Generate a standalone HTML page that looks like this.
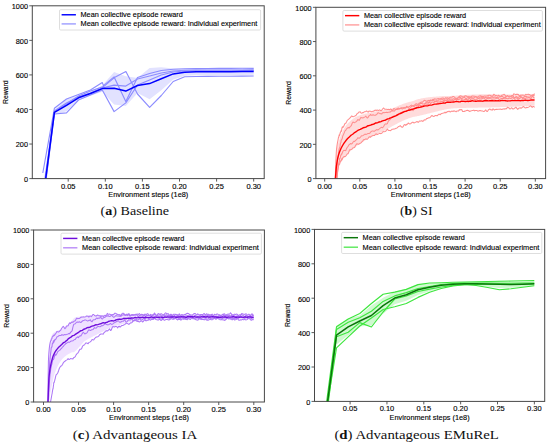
<!DOCTYPE html>
<html><head><meta charset="utf-8"><style>
html,body{margin:0;padding:0;background:#fff;}
svg{display:block;font-family:"Liberation Sans", sans-serif;}
text{stroke:#000;stroke-width:0.12px;}
</style></head><body>
<svg width="550" height="448" viewBox="0 0 550 448">
<rect width="550" height="448" fill="#fff"/>
<defs>
<clipPath id="c0"><rect x="32.3" y="5.8" width="231.9" height="172.8"/></clipPath>
<clipPath id="c1"><rect x="315.9" y="7.3" width="229.7" height="171.3"/></clipPath>
<clipPath id="c2"><rect x="33.6" y="230" width="230.8" height="172"/></clipPath>
<clipPath id="c3"><rect x="314.5" y="229.4" width="230.2" height="172"/></clipPath>
</defs>
<g clip-path="url(#c0)">
<polygon points="42.8,186.6 54.4,110.03 66.5,99.44 78.5,95.48 90.4,91.28 102.3,85.47 114.1,71.91 125.8,76.32 137.5,78.01 149.6,67.97 161.3,67.32 173.2,68.42 184.7,68.69 196.2,68.33 207.7,68.35 219.2,68.37 230.7,68.42 242.2,68.23 253.7,68.16 253.7,74.84 242.2,74.97 230.7,75.18 219.2,75.23 207.7,75.25 196.2,75.27 184.7,75.71 173.2,79.38 161.3,90.28 149.6,99.23 137.5,92.99 125.8,105.88 114.1,104.49 102.3,91.73 90.4,95.72 78.5,100.12 66.5,111.16 54.4,114.77 42.8,214.8" fill="#e2e2ff" stroke="none"/>
<polyline points="42.8,173 54.4,108.3 66.5,99 78.5,94.5 90.4,90 102.3,82.6 103.5,85.6 114.1,76.9 125.8,101.5 137.5,77.5 149.6,73.5 161.3,70.5 173.2,69.3 184.7,68.8 196.2,68.6 207.7,68.5 219.2,68.4 230.7,68.4 242.2,68.3 253.7,68.3" fill="none" stroke="#8c8cff" stroke-width="1.15" stroke-linejoin="round"/>
<polyline points="42.8,200 54.4,112 66.5,104 78.5,96 90.4,91 103.6,86.6 114.4,77.6 125.9,71.5 137.5,94 149.6,107.3 161.3,95.5 173.2,81.5 184.7,76.8 196.2,76.5 207.7,76.4 219.2,76.3 230.7,76.2 242.2,76.1 253.7,76" fill="none" stroke="#8c8cff" stroke-width="1.15" stroke-linejoin="round"/>
<polyline points="42.8,205 54.4,114 66.5,112.9 78.5,100 90.4,95 102.3,90 114.1,111.6 125.8,102.9 137.5,85 149.6,80 161.3,75 173.2,72 184.7,71 196.2,70.8 207.7,70.8 219.2,70.8 230.7,70.8 242.2,70.7 253.7,70.6" fill="none" stroke="#8c8cff" stroke-width="1.15" stroke-linejoin="round"/>
<polyline points="42.8,195 54.4,111 66.5,103 78.5,97 90.4,93 102.3,88 114.1,85.1 125.8,86.1 137.5,79 149.6,76 161.3,73 173.2,71 184.7,70.3 196.2,70 207.7,70 219.2,70 230.7,70 242.2,70 253.7,69.9" fill="none" stroke="#8c8cff" stroke-width="1.15" stroke-linejoin="round"/>
<polyline points="42.8,200.7 54.4,112.4 66.5,105.3 78.5,97.8 90.4,93.5 102.3,88.6 114.1,88.2 125.8,91.1 137.5,85.5 149.6,83.6 161.3,78.8 173.2,73.9 184.7,72.2 196.2,71.8 207.7,71.8 219.2,71.8 230.7,71.8 242.2,71.6 253.7,71.5" fill="none" stroke="#0000ff" stroke-width="1.55" stroke-linejoin="round"/>
</g>
<rect x="32.3" y="5.8" width="231.9" height="172.8" fill="none" stroke="#484848" stroke-width="1"/>
<line x1="29.3" y1="178.6" x2="32.3" y2="178.6" stroke="#484848" stroke-width="0.9"/>
<text x="28" y="182" text-anchor="end" font-size="7.3" fill="#000">0</text>
<line x1="29.3" y1="144.04" x2="32.3" y2="144.04" stroke="#484848" stroke-width="0.9"/>
<text x="28" y="147.44" text-anchor="end" font-size="7.3" fill="#000">200</text>
<line x1="29.3" y1="109.48" x2="32.3" y2="109.48" stroke="#484848" stroke-width="0.9"/>
<text x="28" y="112.88" text-anchor="end" font-size="7.3" fill="#000">400</text>
<line x1="29.3" y1="74.92" x2="32.3" y2="74.92" stroke="#484848" stroke-width="0.9"/>
<text x="28" y="78.32" text-anchor="end" font-size="7.3" fill="#000">600</text>
<line x1="29.3" y1="40.36" x2="32.3" y2="40.36" stroke="#484848" stroke-width="0.9"/>
<text x="28" y="43.76" text-anchor="end" font-size="7.3" fill="#000">800</text>
<line x1="29.3" y1="5.8" x2="32.3" y2="5.8" stroke="#484848" stroke-width="0.9"/>
<text x="28" y="9.2" text-anchor="end" font-size="7.3" fill="#000">1000</text>
<line x1="68.2" y1="178.6" x2="68.2" y2="181.6" stroke="#484848" stroke-width="0.9"/>
<text x="68.2" y="188.6" text-anchor="middle" font-size="7" fill="#000" textLength="14.6" lengthAdjust="spacingAndGlyphs">0.05</text>
<line x1="105.3" y1="178.6" x2="105.3" y2="181.6" stroke="#484848" stroke-width="0.9"/>
<text x="105.3" y="188.6" text-anchor="middle" font-size="7" fill="#000" textLength="14.6" lengthAdjust="spacingAndGlyphs">0.10</text>
<line x1="142.4" y1="178.6" x2="142.4" y2="181.6" stroke="#484848" stroke-width="0.9"/>
<text x="142.4" y="188.6" text-anchor="middle" font-size="7" fill="#000" textLength="14.6" lengthAdjust="spacingAndGlyphs">0.15</text>
<line x1="179.5" y1="178.6" x2="179.5" y2="181.6" stroke="#484848" stroke-width="0.9"/>
<text x="179.5" y="188.6" text-anchor="middle" font-size="7" fill="#000" textLength="14.6" lengthAdjust="spacingAndGlyphs">0.20</text>
<line x1="216.6" y1="178.6" x2="216.6" y2="181.6" stroke="#484848" stroke-width="0.9"/>
<text x="216.6" y="188.6" text-anchor="middle" font-size="7" fill="#000" textLength="14.6" lengthAdjust="spacingAndGlyphs">0.25</text>
<line x1="253.7" y1="178.6" x2="253.7" y2="181.6" stroke="#484848" stroke-width="0.9"/>
<text x="253.7" y="188.6" text-anchor="middle" font-size="7" fill="#000" textLength="14.6" lengthAdjust="spacingAndGlyphs">0.30</text>
<text x="148.25" y="197.3" text-anchor="middle" font-size="7.2" fill="#000" textLength="80" lengthAdjust="spacingAndGlyphs">Environment steps (1e8)</text>
<text x="0" y="0" transform="translate(7.8,92.2) rotate(-90)" text-anchor="middle" font-size="6.9" fill="#000" textLength="23.4" lengthAdjust="spacingAndGlyphs">Reward</text>
<rect x="59.5" y="9.7" width="201.1" height="20.3" rx="1.2" fill="#ffffff" fill-opacity="0.85" stroke="#d6d6d6" stroke-width="0.8"/>
<line x1="61.6" y1="14.77" x2="75.9" y2="14.77" stroke="#0000ff" stroke-width="1.45"/>
<line x1="61.6" y1="23.91" x2="75.9" y2="23.91" stroke="#8c8cff" stroke-width="1.2"/>
<text x="80.5" y="17.27" font-size="7.3" fill="#000" textLength="102.3" lengthAdjust="spacingAndGlyphs">Mean collective episode reward</text>
<text x="80.5" y="26.41" font-size="7.3" fill="#000" textLength="176.8" lengthAdjust="spacingAndGlyphs">Mean collective episode reward: Individual experiment</text>
<text x="100.6" y="215" font-family='"Liberation Serif", serif' font-size="13.5" fill="#111" style="stroke:none" textLength="68.4" lengthAdjust="spacingAndGlyphs">(<tspan font-weight="bold">a</tspan>) Baseline</text>
<g clip-path="url(#c1)">
<polygon points="334.6,185 334.88,183.17 335.15,178.73 335.4,172.85 335.43,172.18 335.7,165.33 335.98,158.42 336.2,154.1 336.26,153.25 336.53,149.78 336.81,148.06 337,147.06 337.08,146.68 337.36,145.57 337.63,144.67 337.8,144.2 337.91,143.9 338.19,143.16 338.46,142.32 338.6,141.89 338.74,141.48 339.01,140.67 339.29,139.88 339.4,139.57 339.57,139.11 339.84,138.33 340.12,137.54 340.2,137.31 340.39,136.76 340.67,136.01 340.94,135.29 341,135.15 341.22,134.59 341.5,133.92 341.77,133.26 341.8,133.2 342.05,132.62 342.32,132 342.6,131.39 342.6,131.39 343.4,129.76 344.2,128.29 345,126.99 345.8,125.84 346.6,124.81 347.4,123.87 348.2,123.01 349,122.2 349.8,121.44 350.6,120.73 351.4,120.06 352.2,119.43 353,118.86 353.8,118.31 354.6,117.8 355.4,117.32 356.2,116.87 357,116.46 357.8,116.08 358.6,115.73 359.4,115.42 360.2,115.13 361,114.87 361.8,114.63 362.6,114.4 363.4,114.18 364.2,113.97 365,113.77 365.8,113.58 366.6,113.4 367.4,113.23 368.2,113.07 369,112.91 369.8,112.76 370.6,112.6 371.4,112.44 372.2,112.28 373,112.11 373.8,111.95 374.6,111.77 375.4,111.59 376.2,111.42 377,111.25 377.8,111.09 378.6,110.94 379.4,110.79 380.2,110.65 381,110.53 381.8,110.42 382.6,110.31 383.4,110.21 384.2,110.1 385,109.99 385.8,109.87 386.6,109.74 387.4,109.61 388.2,109.47 389,109.31 389.8,109.13 390.6,108.92 391.4,108.68 392.2,108.4 393,108.1 393.8,107.77 394.6,107.43 395.4,107.09 396.2,106.74 397,106.38 397.8,106.03 398.6,105.68 399.4,105.34 400.2,105.01 401,104.69 401.8,104.38 402.6,104.09 403.4,103.82 404.2,103.56 405,103.31 405.8,103.07 406.6,102.83 407.4,102.59 408.2,102.35 409,102.11 409.8,101.87 410.6,101.64 411.4,101.4 412.2,101.16 413,100.92 413.8,100.66 414.6,100.39 415.4,100.11 416.2,99.83 417,99.56 417.8,99.31 418.6,99.08 419.4,98.89 420.2,98.7 421,98.52 421.8,98.36 422.6,98.2 423.4,98.06 424.2,97.92 425,97.79 425.8,97.67 426.6,97.56 427.4,97.45 428.2,97.35 429,97.26 429.8,97.17 430.6,97.09 431.4,97.01 432.2,96.94 433,96.87 433.8,96.8 434.6,96.74 435.4,96.67 436.2,96.6 437,96.54 437.8,96.47 438.6,96.41 439.4,96.34 440.2,96.27 441,96.2 441.8,96.15 442.6,96.09 443.4,96.05 444.2,96.01 445,95.99 445.8,95.96 446.6,95.94 447.4,95.93 448.2,95.92 449,95.91 449.8,95.9 450.6,95.89 451.4,95.87 452.2,95.84 453,95.81 453.8,95.77 454.6,95.72 455.4,95.66 456.2,95.61 457,95.55 457.8,95.49 458.6,95.44 459.4,95.38 460.2,95.33 461,95.28 461.8,95.23 462.6,95.17 463.4,95.12 464.2,95.07 465,95.02 465.8,94.97 466.6,94.92 467.4,94.87 468.2,94.83 469,94.78 469.8,94.73 470.6,94.69 471.4,94.65 472.2,94.61 473,94.57 473.8,94.54 474.6,94.51 475.4,94.48 476.2,94.45 477,94.42 477.8,94.4 478.6,94.39 479.4,94.37 480.2,94.36 481,94.34 481.8,94.33 482.6,94.33 483.4,94.32 484.2,94.31 485,94.31 485.8,94.31 486.6,94.31 487.4,94.31 488.2,94.31 489,94.31 489.8,94.31 490.6,94.32 491.4,94.32 492.2,94.33 493,94.33 493.8,94.34 494.6,94.35 495.4,94.35 496.2,94.36 497,94.37 497.8,94.38 498.6,94.39 499.4,94.39 500.2,94.4 501,94.41 501.8,94.42 502.6,94.43 503.4,94.43 504.2,94.44 505,94.45 505.8,94.45 506.6,94.46 507.4,94.47 508.2,94.47 509,94.48 509.8,94.48 510.6,94.49 511.4,94.5 512.2,94.51 513,94.51 513.8,94.52 514.6,94.53 515.4,94.53 516.2,94.54 517,94.55 517.8,94.56 518.6,94.57 519.4,94.57 520.2,94.58 521,94.59 521.8,94.6 522.6,94.61 523.4,94.62 524.2,94.63 525,94.64 525.8,94.65 526.6,94.66 527.4,94.67 528.2,94.68 529,94.69 529.8,94.7 530.6,94.71 531.4,94.72 532.2,94.73 533,94.75 533.8,94.76 534.6,94.77 534.6,105.64 533.8,105.68 533,105.73 532.2,105.77 531.4,105.81 530.6,105.85 529.8,105.9 529,105.94 528.2,105.98 527.4,106.02 526.6,106.06 525.8,106.1 525,106.14 524.2,106.18 523.4,106.21 522.6,106.25 521.8,106.29 521,106.33 520.2,106.36 519.4,106.4 518.6,106.43 517.8,106.47 517,106.5 516.2,106.54 515.4,106.57 514.6,106.6 513.8,106.64 513,106.67 512.2,106.7 511.4,106.73 510.6,106.76 509.8,106.79 509,106.82 508.2,106.85 507.4,106.88 506.6,106.91 505.8,106.94 505,106.96 504.2,106.99 503.4,107.02 502.6,107.04 501.8,107.07 501,107.09 500.2,107.12 499.4,107.14 498.6,107.17 497.8,107.19 497,107.21 496.2,107.24 495.4,107.26 494.6,107.28 493.8,107.3 493,107.32 492.2,107.34 491.4,107.36 490.6,107.38 489.8,107.4 489,107.42 488.2,107.44 487.4,107.45 486.6,107.47 485.8,107.49 485,107.5 484.2,107.52 483.4,107.53 482.6,107.55 481.8,107.56 481,107.58 480.2,107.59 479.4,107.6 478.6,107.61 477.8,107.63 477,107.64 476.2,107.65 475.4,107.67 474.6,107.68 473.8,107.7 473,107.72 472.2,107.73 471.4,107.75 470.6,107.77 469.8,107.79 469,107.8 468.2,107.82 467.4,107.84 466.6,107.86 465.8,107.88 465,107.91 464.2,107.93 463.4,107.95 462.6,107.97 461.8,107.99 461,108.02 460.2,108.04 459.4,108.07 458.6,108.09 457.8,108.12 457,108.15 456.2,108.19 455.4,108.22 454.6,108.26 453.8,108.31 453,108.38 452.2,108.46 451.4,108.54 450.6,108.64 449.8,108.75 449,108.87 448.2,108.99 447.4,109.12 446.6,109.26 445.8,109.41 445,109.57 444.2,109.74 443.4,109.91 442.6,110.08 441.8,110.26 441,110.44 440.2,110.62 439.4,110.8 438.6,110.99 437.8,111.18 437,111.38 436.2,111.59 435.4,111.79 434.6,111.99 433.8,112.2 433,112.4 432.2,112.6 431.4,112.8 430.6,113 429.8,113.2 429,113.4 428.2,113.6 427.4,113.8 426.6,114 425.8,114.2 425,114.4 424.2,114.6 423.4,114.79 422.6,114.98 421.8,115.18 421,115.36 420.2,115.55 419.4,115.74 418.6,115.92 417.8,116.08 417,116.23 416.2,116.38 415.4,116.52 414.6,116.68 413.8,116.86 413,117.06 412.2,117.28 411.4,117.52 410.6,117.78 409.8,118.04 409,118.32 408.2,118.61 407.4,118.9 406.6,119.21 405.8,119.52 405,119.84 404.2,120.17 403.4,120.51 402.6,120.87 401.8,121.24 401,121.63 400.2,122.04 399.4,122.45 398.6,122.87 397.8,123.29 397,123.72 396.2,124.15 395.4,124.58 394.6,125.01 393.8,125.44 393,125.87 392.2,126.31 391.4,126.74 390.6,127.18 389.8,127.63 389,128.08 388.2,128.53 387.4,128.98 386.6,129.42 385.8,129.86 385,130.3 384.2,130.74 383.4,131.17 382.6,131.6 381.8,132.03 381,132.44 380.2,132.85 379.4,133.24 378.6,133.62 377.8,134 377,134.37 376.2,134.75 375.4,135.13 374.6,135.51 373.8,135.88 373,136.25 372.2,136.62 371.4,137 370.6,137.38 369.8,137.77 369,138.17 368.2,138.59 367.4,139.02 366.6,139.47 365.8,139.93 365,140.41 364.2,140.9 363.4,141.4 362.6,141.92 361.8,142.44 361,142.98 360.2,143.53 359.4,144.09 358.6,144.65 357.8,145.22 357,145.8 356.2,146.38 355.4,146.97 354.6,147.58 353.8,148.2 353,148.84 352.2,149.51 351.4,150.2 350.6,150.9 349.8,151.63 349,152.39 348.2,153.17 347.4,153.99 346.6,154.84 345.8,155.73 345,156.65 344.2,157.59 343.4,158.56 342.6,159.57 342.6,159.57 342.32,159.93 342.05,160.3 341.8,160.65 341.77,160.69 341.5,161.08 341.22,161.49 341,161.84 340.94,161.93 340.67,162.39 340.39,162.88 340.2,163.25 340.12,163.42 339.84,164.02 339.57,164.72 339.4,165.18 339.29,165.51 339.01,166.39 338.74,167.36 338.6,167.88 338.46,168.41 338.19,169.6 337.91,171.03 337.8,171.68 337.63,172.73 337.36,174.67 337.08,176.8 337,177.46 336.81,179.07 336.53,181.41 336.26,182.46 336.2,182.62 335.98,183.53 335.7,184.39 335.43,184.47 335.4,184.35 335.15,183.09 334.88,183.17 334.6,185" fill="#ffdcdc" stroke="none"/>
<polyline points="335.15,180.64 335.4,173.49 335.43,172.71 335.7,165.16 335.98,158.43 336.2,153.94 336.26,152.97 336.53,149.22 336.81,147.02 337,145.66 337.08,145.11 337.36,143.4 337.63,141.88 337.8,141.05 337.91,140.53 338.19,139.02 338.46,137.6 338.6,136.99 338.74,137.33 339.01,135.76 339.29,134.71 339.4,135.21 339.57,135.62 339.84,134.29 340.12,132.72 340.2,132.68 340.39,132.83 340.67,131.85 340.94,130.83 341,131.06 341.22,131.41 341.5,131.08 341.77,129.1 341.8,128.77 342.05,128 342.32,126.85 342.6,126.84 342.6,127.44 343.4,127.01 344.2,125.23 345,123.48 345.8,123.2 346.6,121.8 347.4,120.12 348.2,119.58 349,118.88 349.8,118.1 350.6,117.39 351.4,116.01 352.2,116.31 353,116.79 353.8,116.48 354.6,116.12 355.4,115.8 356.2,115.12 357,113.76 357.8,113.52 358.6,112.33 359.4,112.02 360.2,111.83 361,113.03 361.8,113.23 362.6,112.62 363.4,112.79 364.2,111.8 365,111.65 365.8,111.44 366.6,110.92 367.4,111.67 368.2,112.1 369,111.02 369.8,111.25 370.6,111.29 371.4,111.83 372.2,111.44 373,111.24 373.8,111.13 374.6,110.55 375.4,110.03 376.2,110.69 377,109.93 377.8,110.31 378.6,110.48 379.4,109.88 380.2,110.28 381,110.73 381.8,110.06 382.6,108.97 383.4,108.01 384.2,108.72 385,109.23 385.8,109.21 386.6,109.17 387.4,109.59 388.2,109.34 389,109.51 389.8,109.68 390.6,109.02 391.4,109.42 392.2,110.54 393,109.82 393.8,108.54 394.6,108.83 395.4,109.42 396.2,109.59 397,108.89 397.8,108.18 398.6,108.08 399.4,108.6 400.2,108.39 401,107.82 401.8,107.67 402.6,107.68 403.4,107.86 404.2,107.38 405,107.69 405.8,107.89 406.6,107.38 407.4,106.85 408.2,107.28 409,106.62 409.8,106.47 410.6,105.68 411.4,105.1 412.2,105.78 413,105.88 413.8,105.48 414.6,105.09 415.4,104.25 416.2,103.73 417,104 417.8,104.66 418.6,103.89 419.4,102.9 420.2,102.79 421,102.18 421.8,101.99 422.6,102.21 423.4,101.26 424.2,100.3 425,100.46 425.8,100.93 426.6,101.13 427.4,101.19 428.2,100.4 429,100.6 429.8,100.43 430.6,100.08 431.4,100.3 432.2,99.91 433,99.34 433.8,99.62 434.6,98.85 435.4,99.01 436.2,99.19 437,99.1 437.8,98.58 438.6,98.64 439.4,98.82 440.2,99.01 441,98.32 441.8,98.32 442.6,98.04 443.4,98.06 444.2,99.45 445,98.35 445.8,97.55 446.6,98.34 447.4,97.72 448.2,98.08 449,98.27 449.8,97.52 450.6,97.28 451.4,97.27 452.2,97.15 453,96.43 453.8,96.5 454.6,97.32 455.4,98.02 456.2,98.15 457,98.43 457.8,97.79 458.6,96.97 459.4,96.56 460.2,95.74 461,95.91 461.8,96.25 462.6,96.96 463.4,97.12 464.2,96.48 465,96.03 465.8,95.71 466.6,96.33 467.4,96.77 468.2,96.68 469,96.51 469.8,97.59 470.6,97.39 471.4,96.43 472.2,95.96 473,96.03 473.8,96.25 474.6,96.3 475.4,96.55 476.2,96.86 477,97.16 477.8,96.88 478.6,96.22 479.4,96.08 480.2,95.68 481,95.85 481.8,96.7 482.6,96.27 483.4,96.71 484.2,95.96 485,95.98 485.8,96.32 486.6,95.92 487.4,95.78 488.2,95.43 489,95.21 489.8,95.22 490.6,95.39 491.4,96.18 492.2,95.93 493,95.8 493.8,94.22 494.6,94.95 495.4,95.55 496.2,95.41 497,95.9 497.8,95.71 498.6,95.24 499.4,95.86 500.2,96.78 501,95.81 501.8,95.22 502.6,94.91 503.4,94.81 504.2,94.32 505,95.11 505.8,96.47 506.6,96.11 507.4,95.69 508.2,95.99 509,96.24 509.8,95.93 510.6,96.3 511.4,95.84 512.2,95.44 513,95.36 513.8,93.74 514.6,94.11 515.4,94.65 516.2,94.29 517,94.38 517.8,94.24 518.6,94.73 519.4,96.16 520.2,95.5 521,94.99 521.8,95.32 522.6,94.91 523.4,95.13 524.2,95.26 525,95.29 525.8,94.26 526.6,94.76 527.4,94.57 528.2,94.15 529,94.76 529.8,94.56 530.6,95.35 531.4,95.22 532.2,95 533,94.84 533.8,94.67 534.6,93.66" fill="none" stroke="#ff8e8e" stroke-width="1.05" stroke-linejoin="round"/>
<polyline points="335.7,182.02 335.98,177.95 336.2,174.74 336.26,173.95 336.53,170.15 336.81,166.66 337,164.46 337.08,163.59 337.36,161.05 337.63,159.09 337.8,158 337.91,157.29 338.19,155.56 338.46,153.9 338.6,152.36 338.74,151.43 339.01,149.72 339.29,148.33 339.4,148.49 339.57,147.68 339.84,147.43 340.12,145.98 340.2,144.47 340.39,143.37 340.67,142.83 340.94,142.52 341,141.34 341.22,140.05 341.5,139.83 341.77,139.24 341.8,139.08 342.05,139.12 342.32,138.03 342.6,136.92 342.6,136.4 343.4,134.7 344.2,132.87 345,130.82 345.8,130.25 346.6,128.85 347.4,128.21 348.2,127.52 349,128.04 349.8,127.1 350.6,126.36 351.4,125.36 352.2,123.28 353,122.03 353.8,122.47 354.6,122.71 355.4,122.03 356.2,121.72 357,120.97 357.8,119.52 358.6,119.91 359.4,120.29 360.2,118.61 361,117.38 361.8,117.76 362.6,117.86 363.4,117.81 364.2,117.21 365,116.86 365.8,116.14 366.6,117.3 367.4,117.99 368.2,117.25 369,115.79 369.8,115.47 370.6,114.39 371.4,115.29 372.2,115.31 373,114.79 373.8,115.11 374.6,115.19 375.4,115.24 376.2,114.78 377,114.11 377.8,112.9 378.6,112.87 379.4,113.34 380.2,113.64 381,113.71 381.8,113.87 382.6,112.8 383.4,112.63 384.2,112.76 385,112.54 385.8,112.49 386.6,112.24 387.4,112.64 388.2,112.16 389,112.25 389.8,111.99 390.6,111.92 391.4,110.81 392.2,110.99 393,110.77 393.8,110.96 394.6,111.02 395.4,109.74 396.2,109.11 397,109.32 397.8,109.5 398.6,108.76 399.4,109.03 400.2,108.5 401,108.29 401.8,108.69 402.6,108.88 403.4,108.31 404.2,108.09 405,108.12 405.8,107.44 406.6,106.29 407.4,106.95 408.2,107.6 409,108.18 409.8,108.4 410.6,107.49 411.4,106.51 412.2,105.79 413,106.07 413.8,106.49 414.6,106.26 415.4,105.16 416.2,105.26 417,105.74 417.8,105.91 418.6,104.88 419.4,103.92 420.2,103.55 421,103.44 421.8,103.39 422.6,103.96 423.4,104.08 424.2,103.81 425,103.5 425.8,102.64 426.6,102.45 427.4,102.07 428.2,102.18 429,102.48 429.8,101.51 430.6,100.42 431.4,100.72 432.2,100.47 433,99.95 433.8,100.38 434.6,101.46 435.4,101.65 436.2,100.76 437,101.09 437.8,100.91 438.6,99.77 439.4,99.84 440.2,99.97 441,99.67 441.8,98.87 442.6,99.38 443.4,100.31 444.2,100.68 445,100.54 445.8,99.78 446.6,100.28 447.4,99.58 448.2,98.57 449,99.07 449.8,98.94 450.6,99.02 451.4,99.01 452.2,99.38 453,98.94 453.8,98.65 454.6,99.04 455.4,98.71 456.2,98.48 457,98.92 457.8,98.23 458.6,97.77 459.4,97.57 460.2,97.21 461,97.93 461.8,98.86 462.6,97.93 463.4,97.69 464.2,97.3 465,97.71 465.8,98.81 466.6,98.55 467.4,97.7 468.2,97.58 469,97.22 469.8,97.04 470.6,96.95 471.4,97.13 472.2,97.81 473,98.13 473.8,97.98 474.6,97.37 475.4,96.81 476.2,97.12 477,97.19 477.8,97.93 478.6,98.09 479.4,97.92 480.2,97.08 481,96.57 481.8,97.83 482.6,97.97 483.4,96.83 484.2,97.39 485,97.83 485.8,97.29 486.6,98.02 487.4,97.24 488.2,96.89 489,97.87 489.8,97.55 490.6,97.1 491.4,97.24 492.2,96.65 493,97.69 493.8,97.13 494.6,97.11 495.4,97.08 496.2,97.48 497,97.55 497.8,96.98 498.6,97.34 499.4,96.96 500.2,96.62 501,96.65 501.8,96.34 502.6,96.61 503.4,97.38 504.2,97.32 505,97.67 505.8,97.25 506.6,96.16 507.4,95.63 508.2,96.29 509,96.96 509.8,96.83 510.6,96.64 511.4,96.98 512.2,95.89 513,95.9 513.8,97.09 514.6,98.12 515.4,97.26 516.2,96.45 517,97.06 517.8,97.43 518.6,97.33 519.4,96.56 520.2,96.26 521,96.72 521.8,97.25 522.6,98.02 523.4,97.97 524.2,96.56 525,96.24 525.8,96.47 526.6,96.58 527.4,96.93 528.2,97 529,97.06 529.8,97.33 530.6,96.54 531.4,95.68 532.2,95.33 533,95.51 533.8,95.43 534.6,95.3" fill="none" stroke="#ff8e8e" stroke-width="1.05" stroke-linejoin="round"/>
<polyline points="336.2,183.28 336.26,182.8 336.53,180.43 336.81,178.08 337,176.45 337.08,175.76 337.36,173.5 337.63,171.3 337.8,170.03 337.91,169.19 338.19,167.19 338.46,165.31 338.6,164.41 338.74,163.56 339.01,162.32 339.29,161.23 339.4,159.57 339.57,158.7 339.84,158.37 340.12,158.26 340.2,158.27 340.39,157.25 340.67,155.67 340.94,154.81 341,155.37 341.22,154.96 341.5,153.82 341.77,153.7 341.8,154.13 342.05,153.75 342.32,152.58 342.6,152.29 342.6,151.77 343.4,150.73 344.2,150.3 345,150.62 345.8,150.46 346.6,148.35 347.4,147.19 348.2,146.27 349,144.7 349.8,144.33 350.6,143.46 351.4,143.96 352.2,143.59 353,142.21 353.8,141.21 354.6,141.49 355.4,140.6 356.2,139.81 357,139.09 357.8,137.79 358.6,138.12 359.4,138.18 360.2,137.39 361,136.48 361.8,135.66 362.6,135.78 363.4,135.34 364.2,134.61 365,134.1 365.8,134.42 366.6,134.34 367.4,133.67 368.2,133.51 369,133.54 369.8,133.21 370.6,132.16 371.4,131.39 372.2,131.04 373,131.1 373.8,131.31 374.6,131.14 375.4,130.35 376.2,129.96 377,129.59 377.8,130.01 378.6,129.34 379.4,128.89 380.2,128.11 381,127.59 381.8,127.36 382.6,127.75 383.4,126.74 384.2,125.43 385,124.31 385.8,123.88 386.6,124.1 387.4,123.61 388.2,121.42 389,120.4 389.8,119.91 390.6,118.71 391.4,117.51 392.2,117.55 393,117.1 393.8,115.69 394.6,115.86 395.4,116.11 396.2,115.56 397,114.88 397.8,115.39 398.6,114.31 399.4,113.23 400.2,113.23 401,112.45 401.8,112.45 402.6,111.7 403.4,111.87 404.2,111.49 405,111.8 405.8,111.55 406.6,110.96 407.4,110.6 408.2,110.3 409,109.06 409.8,109.48 410.6,109.64 411.4,109.52 412.2,109.96 413,110.67 413.8,109.13 414.6,108.5 415.4,108.28 416.2,108.04 417,106.79 417.8,107.48 418.6,106.33 419.4,105.01 420.2,105.27 421,105.78 421.8,105.83 422.6,105.65 423.4,105.65 424.2,105.07 425,104.26 425.8,103.35 426.6,104.23 427.4,104.48 428.2,103.3 429,102.13 429.8,102.49 430.6,103.6 431.4,102.71 432.2,102.07 433,102.1 433.8,102.51 434.6,101.92 435.4,101.29 436.2,101.02 437,101.74 437.8,102.27 438.6,101.92 439.4,102.03 440.2,101.72 441,101.48 441.8,101.36 442.6,101.37 443.4,101.69 444.2,101.29 445,100.65 445.8,100.72 446.6,100.76 447.4,100.89 448.2,100.79 449,100.45 449.8,99.73 450.6,100.49 451.4,100.79 452.2,99.99 453,100.81 453.8,100.49 454.6,99.64 455.4,99.16 456.2,100.01 457,99.46 457.8,99.48 458.6,99.81 459.4,99.11 460.2,98.78 461,98.84 461.8,99.46 462.6,99.95 463.4,99.94 464.2,99.74 465,99.38 465.8,99.33 466.6,99.41 467.4,100.36 468.2,99.45 469,98.09 469.8,98.63 470.6,99.67 471.4,98.69 472.2,98.78 473,99.11 473.8,98.81 474.6,99.79 475.4,100.04 476.2,99.13 477,99.34 477.8,98.56 478.6,98.34 479.4,98.98 480.2,99.02 481,98.81 481.8,99 482.6,98.11 483.4,97.97 484.2,98.27 485,99.21 485.8,99.53 486.6,99.09 487.4,98.25 488.2,98.71 489,98.75 489.8,97.82 490.6,98.13 491.4,99.06 492.2,99.26 493,99.07 493.8,99.09 494.6,98.98 495.4,98.79 496.2,98.46 497,98.11 497.8,98.26 498.6,98.77 499.4,99.83 500.2,99.14 501,98.57 501.8,98.41 502.6,98.4 503.4,98.47 504.2,98.76 505,98.74 505.8,98.8 506.6,98.31 507.4,98.69 508.2,98.78 509,98 509.8,98.35 510.6,98.51 511.4,98.17 512.2,97.72 513,97.48 513.8,98.47 514.6,97.82 515.4,97.61 516.2,98.11 517,97.6 517.8,98.55 518.6,98.79 519.4,98.63 520.2,98.04 521,97.2 521.8,97.24 522.6,98.56 523.4,98.1 524.2,98.1 525,98.81 525.8,98.05 526.6,97.85 527.4,97.93 528.2,97.8 529,97.41 529.8,97.82 530.6,98.8 531.4,98.16 532.2,96.22 533,96.5 533.8,97.82 534.6,98" fill="none" stroke="#ff8e8e" stroke-width="1.05" stroke-linejoin="round"/>
<polyline points="336.53,184.64 336.81,181.34 337,178.98 337.08,177.97 337.36,174.71 337.63,171.73 337.8,170.15 337.91,169.21 338.19,167.32 338.46,166.21 338.6,165.81 338.74,165.42 339.01,164.67 339.29,163.99 339.4,163.72 339.57,164.36 339.84,163.12 340.12,162.34 340.2,161.73 340.39,161.11 340.67,161.11 340.94,160.77 341,160.7 341.22,160.96 341.5,159.31 341.77,158.79 341.8,159.33 342.05,159.84 342.32,159.03 342.6,158.31 342.6,158.02 343.4,157.08 344.2,156.45 345,156.7 345.8,156.03 346.6,154.93 347.4,153.77 348.2,153.68 349,151.33 349.8,149.63 350.6,149.68 351.4,149.58 352.2,148.94 353,147.68 353.8,147.74 354.6,147.51 355.4,145.7 356.2,144.5 357,143.75 357.8,144.14 358.6,144.23 359.4,143.75 360.2,143.34 361,142.91 361.8,141.96 362.6,141.34 363.4,140.02 364.2,139.48 365,139.43 365.8,138.86 366.6,139.13 367.4,139.23 368.2,138.24 369,137.05 369.8,136.83 370.6,137.2 371.4,136.21 372.2,135.88 373,135.55 373.8,135.51 374.6,135.5 375.4,134.32 376.2,133.75 377,134.61 377.8,134.24 378.6,133.86 379.4,133.4 380.2,133.5 381,133.64 381.8,133.21 382.6,132.05 383.4,131.58 384.2,131.67 385,131.5 385.8,131.17 386.6,130 387.4,129.14 388.2,130.17 389,130.58 389.8,130.51 390.6,130.66 391.4,129.95 392.2,129.16 393,129.26 393.8,128.95 394.6,129.07 395.4,128.58 396.2,128.25 397,127.9 397.8,127.26 398.6,126.43 399.4,126.33 400.2,125.6 401,126.52 401.8,127.21 402.6,127.31 403.4,126.14 404.2,124.82 405,124.52 405.8,125.4 406.6,124.37 407.4,124.18 408.2,123.02 409,123.54 409.8,124.03 410.6,123.66 411.4,123.03 412.2,122.3 413,122.24 413.8,122.96 414.6,122.71 415.4,122.17 416.2,121.89 417,121.51 417.8,122.22 418.6,122.12 419.4,121 420.2,121.04 421,121.15 421.8,120.63 422.6,121.4 423.4,120.99 424.2,119.87 425,120.06 425.8,119.83 426.6,118.42 427.4,118.46 428.2,118.07 429,117.76 429.8,117.74 430.6,116.81 431.4,115.81 432.2,115.61 433,116.21 433.8,116.44 434.6,115.92 435.4,115.5 436.2,115.53 437,115.88 437.8,115.24 438.6,114.26 439.4,114.32 440.2,114.67 441,113.8 441.8,113.44 442.6,113.27 443.4,112.91 444.2,113 445,112.13 445.8,112.98 446.6,112.26 447.4,111.54 448.2,111.67 449,111.09 449.8,111.81 450.6,111.94 451.4,111.15 452.2,111.12 453,111.48 453.8,110.89 454.6,110.97 455.4,111.46 456.2,111.77 457,110.94 457.8,111.03 458.6,111.03 459.4,109.63 460.2,109.89 461,109.41 461.8,109.81 462.6,111.55 463.4,111.5 464.2,111.55 465,110.98 465.8,110.9 466.6,110.49 467.4,110.32 468.2,110.58 469,111.02 469.8,111.49 470.6,110.9 471.4,110.78 472.2,110.6 473,110.42 473.8,110.13 474.6,110.86 475.4,110.51 476.2,110.45 477,110.61 477.8,111.11 478.6,110.96 479.4,110.61 480.2,110.61 481,110.77 481.8,110.95 482.6,111 483.4,111.4 484.2,111.5 485,110.63 485.8,109.92 486.6,111.26 487.4,111.53 488.2,110.2 489,109.38 489.8,108.95 490.6,109.81 491.4,109.82 492.2,110.21 493,108.81 493.8,109.47 494.6,110.01 495.4,109.41 496.2,109.14 497,109.44 497.8,109.19 498.6,109.16 499.4,109.21 500.2,108.99 501,109.2 501.8,109.55 502.6,109.14 503.4,109.01 504.2,108.86 505,109.15 505.8,108.62 506.6,108.66 507.4,107.24 508.2,107.49 509,107.92 509.8,109.02 510.6,108.75 511.4,107.84 512.2,108.24 513,109.1 513.8,108.74 514.6,108.39 515.4,107.33 516.2,107.27 517,108.64 517.8,109.38 518.6,108.3 519.4,108.06 520.2,107.77 521,108.31 521.8,107.73 522.6,107.11 523.4,106.53 524.2,107.11 525,107.85 525.8,108.08 526.6,107.24 527.4,107.64 528.2,107.26 529,106.86 529.8,106.32 530.6,105.81 531.4,106.38 532.2,107.43 533,106.49 533.8,106.6 534.6,107.3" fill="none" stroke="#ff8e8e" stroke-width="1.05" stroke-linejoin="round"/>
<polyline points="334.6,185 334.88,183.17 335.15,180.91 335.4,178.6 335.43,178.32 335.7,174.86 335.98,170.98 336.2,168.36 336.26,167.86 336.53,165.6 336.81,163.56 337,162.26 337.08,161.74 337.36,160.12 337.63,158.7 337.8,157.94 337.91,157.46 338.19,156.38 338.46,155.37 338.6,154.89 338.74,154.42 339.01,153.53 339.29,152.7 339.4,152.38 339.57,151.91 339.84,151.17 340.12,150.48 340.2,150.28 340.39,149.82 340.67,149.2 340.94,148.61 341,148.49 341.22,148.04 341.5,147.5 341.77,146.97 341.8,146.92 342.05,146.46 342.32,145.96 342.6,145.48 342.6,145.48 343.4,144.16 344.2,142.94 345,141.82 345.8,140.78 346.6,139.69 347.4,138.78 348.2,138.01 349,137.28 349.8,136.44 350.6,135.63 351.4,135.03 352.2,134.52 353,133.95 353.8,133.27 354.6,132.57 355.4,132.09 356.2,131.7 357,131.06 357.8,130.47 358.6,130.01 359.4,129.6 360.2,129.34 361,129.01 361.8,128.53 362.6,128.04 363.4,127.72 364.2,127.53 365,127.35 365.8,127.13 366.6,126.58 367.4,125.98 368.2,125.71 369,125.55 369.8,125.34 370.6,125.05 371.4,124.73 372.2,124.46 373,124.29 373.8,124.05 374.6,123.54 375.4,123.06 376.2,122.95 377,122.92 377.8,122.62 378.6,122.2 379.4,121.94 380.2,121.81 381,121.55 381.8,121.19 382.6,120.88 383.4,120.62 384.2,120.4 385,120.24 385.8,119.91 386.6,119.37 387.4,119.04 388.2,118.91 389,118.61 389.8,118.19 390.6,117.88 391.4,117.61 392.2,117.25 393,116.9 393.8,116.61 394.6,116.33 395.4,115.97 396.2,115.54 397,115.06 397.8,114.57 398.6,114.21 399.4,113.93 400.2,113.6 401,113.25 401.8,112.87 402.6,112.51 403.4,112.12 404.2,111.71 405,111.44 405.8,111.26 406.6,111.03 407.4,110.72 408.2,110.43 409,110.2 409.8,110.01 410.6,109.78 411.4,109.47 412.2,109.22 413,109.04 413.8,108.81 414.6,108.53 415.4,108.27 416.2,108 417,107.77 417.8,107.67 418.6,107.5 419.4,107.32 420.2,107.19 421,106.97 421.8,106.81 422.6,106.57 423.4,106.26 424.2,106.08 425,105.92 425.8,105.87 426.6,105.92 427.4,105.87 428.2,105.56 429,105.19 429.8,105.14 430.6,105.17 431.4,105.07 432.2,104.9 433,104.61 433.8,104.32 434.6,104.17 435.4,104.17 436.2,104.14 437,103.96 437.8,103.87 438.6,103.81 439.4,103.64 440.2,103.44 441,103.4 441.8,103.34 442.6,103.09 443.4,103.05 444.2,103.07 445,102.97 445.8,102.71 446.6,102.36 447.4,102.27 448.2,102.29 449,102.27 449.8,102.3 450.6,102.25 451.4,102.17 452.2,102.1 453,102.01 453.8,102.03 454.6,101.91 455.4,101.64 456.2,101.52 457,101.51 457.8,101.6 458.6,101.77 459.4,101.88 460.2,101.74 461,101.42 461.8,101.27 462.6,101.33 463.4,101.35 464.2,101.35 465,101.49 465.8,101.54 466.6,101.34 467.4,101.37 468.2,101.48 469,101.28 469.8,101.22 470.6,101.23 471.4,100.96 472.2,100.8 473,100.93 473.8,101.11 474.6,101.16 475.4,101.18 476.2,101.23 477,101.09 477.8,100.96 478.6,101 479.4,101.07 480.2,100.99 481,100.98 481.8,101.14 482.6,101.18 483.4,101.01 484.2,100.76 485,100.7 485.8,100.79 486.6,100.81 487.4,100.79 488.2,100.84 489,100.85 489.8,100.78 490.6,100.79 491.4,100.77 492.2,100.73 493,100.8 493.8,100.88 494.6,100.82 495.4,100.74 496.2,100.79 497,100.83 497.8,100.81 498.6,100.81 499.4,100.87 500.2,100.78 501,100.58 501.8,100.48 502.6,100.54 503.4,100.65 504.2,100.64 505,100.63 505.8,100.73 506.6,100.91 507.4,100.94 508.2,100.86 509,100.87 509.8,100.85 510.6,100.76 511.4,100.58 512.2,100.49 513,100.64 513.8,100.65 514.6,100.47 515.4,100.48 516.2,100.59 517,100.54 517.8,100.4 518.6,100.43 519.4,100.64 520.2,100.7 521,100.61 521.8,100.56 522.6,100.52 523.4,100.45 524.2,100.37 525,100.32 525.8,100.31 526.6,100.39 527.4,100.47 528.2,100.44 529,100.36 529.8,100.3 530.6,100.16 531.4,99.91 532.2,99.93 533,100.04 533.8,100.05 534.6,100.17" fill="none" stroke="#ff0000" stroke-width="1.4" stroke-linejoin="round"/>
</g>
<rect x="315.9" y="7.3" width="229.7" height="171.3" fill="none" stroke="#484848" stroke-width="1"/>
<line x1="312.9" y1="178.6" x2="315.9" y2="178.6" stroke="#484848" stroke-width="0.9"/>
<text x="311.6" y="182" text-anchor="end" font-size="7.3" fill="#000">0</text>
<line x1="312.9" y1="144.34" x2="315.9" y2="144.34" stroke="#484848" stroke-width="0.9"/>
<text x="311.6" y="147.74" text-anchor="end" font-size="7.3" fill="#000">200</text>
<line x1="312.9" y1="110.08" x2="315.9" y2="110.08" stroke="#484848" stroke-width="0.9"/>
<text x="311.6" y="113.48" text-anchor="end" font-size="7.3" fill="#000">400</text>
<line x1="312.9" y1="75.82" x2="315.9" y2="75.82" stroke="#484848" stroke-width="0.9"/>
<text x="311.6" y="79.22" text-anchor="end" font-size="7.3" fill="#000">600</text>
<line x1="312.9" y1="41.56" x2="315.9" y2="41.56" stroke="#484848" stroke-width="0.9"/>
<text x="311.6" y="44.96" text-anchor="end" font-size="7.3" fill="#000">800</text>
<line x1="312.9" y1="7.3" x2="315.9" y2="7.3" stroke="#484848" stroke-width="0.9"/>
<text x="311.6" y="10.7" text-anchor="end" font-size="7.3" fill="#000">1000</text>
<line x1="324.7" y1="178.6" x2="324.7" y2="181.6" stroke="#484848" stroke-width="0.9"/>
<text x="324.7" y="188.6" text-anchor="middle" font-size="7" fill="#000" textLength="14.6" lengthAdjust="spacingAndGlyphs">0.00</text>
<line x1="359.8" y1="178.6" x2="359.8" y2="181.6" stroke="#484848" stroke-width="0.9"/>
<text x="359.8" y="188.6" text-anchor="middle" font-size="7" fill="#000" textLength="14.6" lengthAdjust="spacingAndGlyphs">0.05</text>
<line x1="394.9" y1="178.6" x2="394.9" y2="181.6" stroke="#484848" stroke-width="0.9"/>
<text x="394.9" y="188.6" text-anchor="middle" font-size="7" fill="#000" textLength="14.6" lengthAdjust="spacingAndGlyphs">0.10</text>
<line x1="430" y1="178.6" x2="430" y2="181.6" stroke="#484848" stroke-width="0.9"/>
<text x="430" y="188.6" text-anchor="middle" font-size="7" fill="#000" textLength="14.6" lengthAdjust="spacingAndGlyphs">0.15</text>
<line x1="465.1" y1="178.6" x2="465.1" y2="181.6" stroke="#484848" stroke-width="0.9"/>
<text x="465.1" y="188.6" text-anchor="middle" font-size="7" fill="#000" textLength="14.6" lengthAdjust="spacingAndGlyphs">0.20</text>
<line x1="500.2" y1="178.6" x2="500.2" y2="181.6" stroke="#484848" stroke-width="0.9"/>
<text x="500.2" y="188.6" text-anchor="middle" font-size="7" fill="#000" textLength="14.6" lengthAdjust="spacingAndGlyphs">0.25</text>
<line x1="535.3" y1="178.6" x2="535.3" y2="181.6" stroke="#484848" stroke-width="0.9"/>
<text x="535.3" y="188.6" text-anchor="middle" font-size="7" fill="#000" textLength="14.6" lengthAdjust="spacingAndGlyphs">0.30</text>
<text x="430.75" y="197.3" text-anchor="middle" font-size="7.2" fill="#000" textLength="80" lengthAdjust="spacingAndGlyphs">Environment steps (1e8)</text>
<text x="0" y="0" transform="translate(291.3,92.95) rotate(-90)" text-anchor="middle" font-size="6.9" fill="#000" textLength="23.4" lengthAdjust="spacingAndGlyphs">Reward</text>
<rect x="342.9" y="10.5" width="199.5" height="20.6" rx="1.2" fill="#ffffff" fill-opacity="0.85" stroke="#d6d6d6" stroke-width="0.8"/>
<line x1="345" y1="15.65" x2="359.3" y2="15.65" stroke="#ff0000" stroke-width="1.45"/>
<line x1="345" y1="24.92" x2="359.3" y2="24.92" stroke="#ff8e8e" stroke-width="1.2"/>
<text x="363.9" y="18.15" font-size="7.3" fill="#000" textLength="102.3" lengthAdjust="spacingAndGlyphs">Mean collective episode reward</text>
<text x="363.9" y="27.42" font-size="7.3" fill="#000" textLength="176.8" lengthAdjust="spacingAndGlyphs">Mean collective episode reward: Individual experiment</text>
<text x="400" y="215" font-family='"Liberation Serif", serif' font-size="13.5" fill="#111" style="stroke:none" textLength="32.6" lengthAdjust="spacingAndGlyphs">(<tspan font-weight="bold">b</tspan>) SI</text>
<g clip-path="url(#c2)">
<polygon points="47.3,410 47.58,407.24 47.85,401.04 48.1,385.69 48.13,383.97 48.4,369.11 48.68,359.88 48.9,354.67 48.96,353.73 49.23,349.85 49.51,346.79 49.7,345.07 49.78,344.41 50.06,342.49 50.33,340.91 50.5,340.08 50.61,339.57 50.89,338.37 51.16,337.32 51.3,336.84 51.44,336.4 51.71,335.62 51.99,334.96 52.1,334.72 52.27,334.4 52.54,333.93 52.82,333.54 52.9,333.43 53.09,333.21 53.37,332.94 53.64,332.73 53.7,332.69 53.92,332.56 54.2,332.42 54.47,332.28 54.5,332.26 54.75,332.12 55.02,331.95 55.3,331.76 55.3,331.76 56.1,331.25 56.9,330.85 57.7,330.54 58.5,330.27 59.3,330.01 60.1,329.7 60.9,329.35 61.7,328.95 62.5,328.49 63.3,328 64.1,327.49 64.9,326.94 65.7,326.36 66.5,325.72 67.3,325.05 68.1,324.34 68.9,323.61 69.7,322.89 70.5,322.16 71.3,321.44 72.1,320.61 72.9,319.52 73.7,318.48 74.5,317.86 75.3,317.42 76.1,317.11 76.9,316.91 77.7,316.82 78.5,316.76 79.3,316.72 80.1,316.69 80.9,316.74 81.7,316.85 82.5,316.96 83.3,317.02 84.1,316.96 84.9,316.8 85.7,316.61 86.5,316.41 87.3,316.2 88.1,316 88.9,315.81 89.7,315.64 90.5,315.5 91.3,315.39 92.1,315.31 92.9,315.23 93.7,315.18 94.5,315.13 95.3,315.09 96.1,315.07 96.9,315.04 97.7,315.02 98.5,315 99.3,314.99 100.1,314.96 100.9,314.95 101.7,314.93 102.5,314.91 103.3,314.9 104.1,314.88 104.9,314.87 105.7,314.85 106.5,314.82 107.3,314.79 108.1,314.76 108.9,314.72 109.7,314.69 110.5,314.65 111.3,314.62 112.1,314.59 112.9,314.55 113.7,314.51 114.5,314.47 115.3,314.43 116.1,314.37 116.9,314.31 117.7,314.25 118.5,314.19 119.3,314.14 120.1,314.09 120.9,314.05 121.7,314.01 122.5,314 123.3,313.99 124.1,314 124.9,314.01 125.7,314.04 126.5,314.07 127.3,314.1 128.1,314.13 128.9,314.17 129.7,314.2 130.5,314.24 131.3,314.27 132.1,314.31 132.9,314.35 133.7,314.39 134.5,314.42 135.3,314.46 136.1,314.5 136.9,314.53 137.7,314.57 138.5,314.61 139.3,314.64 140.1,314.67 140.9,314.7 141.7,314.73 142.5,314.76 143.3,314.78 144.1,314.8 144.9,314.83 145.7,314.85 146.5,314.87 147.3,314.9 148.1,314.92 148.9,314.94 149.7,314.96 150.5,314.98 151.3,315 152.1,315.02 152.9,315.03 153.7,315.04 154.5,315.05 155.3,315.06 156.1,315.06 156.9,315.06 157.7,315.06 158.5,315.05 159.3,315.04 160.1,315.03 160.9,315.02 161.7,315.01 162.5,315 163.3,314.99 164.1,314.98 164.9,314.97 165.7,314.95 166.5,314.94 167.3,314.93 168.1,314.92 168.9,314.91 169.7,314.9 170.5,314.88 171.3,314.87 172.1,314.86 172.9,314.86 173.7,314.85 174.5,314.84 175.3,314.83 176.1,314.83 176.9,314.82 177.7,314.82 178.5,314.82 179.3,314.82 180.1,314.82 180.9,314.82 181.7,314.82 182.5,314.82 183.3,314.83 184.1,314.83 184.9,314.83 185.7,314.83 186.5,314.83 187.3,314.83 188.1,314.83 188.9,314.84 189.7,314.84 190.5,314.84 191.3,314.84 192.1,314.84 192.9,314.84 193.7,314.84 194.5,314.84 195.3,314.84 196.1,314.84 196.9,314.84 197.7,314.84 198.5,314.84 199.3,314.84 200.1,314.84 200.9,314.84 201.7,314.84 202.5,314.84 203.3,314.84 204.1,314.84 204.9,314.84 205.7,314.84 206.5,314.84 207.3,314.84 208.1,314.84 208.9,314.84 209.7,314.84 210.5,314.84 211.3,314.85 212.1,314.85 212.9,314.85 213.7,314.85 214.5,314.85 215.3,314.85 216.1,314.85 216.9,314.85 217.7,314.85 218.5,314.85 219.3,314.85 220.1,314.85 220.9,314.85 221.7,314.85 222.5,314.85 223.3,314.85 224.1,314.85 224.9,314.86 225.7,314.86 226.5,314.86 227.3,314.86 228.1,314.86 228.9,314.86 229.7,314.86 230.5,314.86 231.3,314.86 232.1,314.86 232.9,314.86 233.7,314.86 234.5,314.86 235.3,314.87 236.1,314.87 236.9,314.87 237.7,314.87 238.5,314.87 239.3,314.87 240.1,314.87 240.9,314.87 241.7,314.87 242.5,314.87 243.3,314.87 244.1,314.87 244.9,314.87 245.7,314.88 246.5,314.88 247.3,314.88 248.1,314.88 248.9,314.88 249.7,314.88 250.5,314.88 251.3,314.88 252.1,314.88 252.9,314.88 253.7,314.88 253.7,319.12 252.9,319.12 252.1,319.12 251.3,319.12 250.5,319.12 249.7,319.12 248.9,319.12 248.1,319.12 247.3,319.12 246.5,319.12 245.7,319.12 244.9,319.13 244.1,319.13 243.3,319.13 242.5,319.13 241.7,319.13 240.9,319.13 240.1,319.13 239.3,319.13 238.5,319.13 237.7,319.13 236.9,319.13 236.1,319.13 235.3,319.13 234.5,319.14 233.7,319.14 232.9,319.14 232.1,319.14 231.3,319.14 230.5,319.14 229.7,319.14 228.9,319.14 228.1,319.14 227.3,319.14 226.5,319.14 225.7,319.14 224.9,319.14 224.1,319.15 223.3,319.15 222.5,319.15 221.7,319.15 220.9,319.15 220.1,319.15 219.3,319.15 218.5,319.15 217.7,319.15 216.9,319.15 216.1,319.15 215.3,319.15 214.5,319.15 213.7,319.15 212.9,319.15 212.1,319.15 211.3,319.15 210.5,319.16 209.7,319.16 208.9,319.16 208.1,319.16 207.3,319.16 206.5,319.16 205.7,319.16 204.9,319.16 204.1,319.16 203.3,319.16 202.5,319.16 201.7,319.16 200.9,319.16 200.1,319.16 199.3,319.16 198.5,319.16 197.7,319.16 196.9,319.16 196.1,319.16 195.3,319.16 194.5,319.16 193.7,319.16 192.9,319.16 192.1,319.16 191.3,319.16 190.5,319.16 189.7,319.16 188.9,319.16 188.1,319.17 187.3,319.17 186.5,319.17 185.7,319.17 184.9,319.17 184.1,319.17 183.3,319.17 182.5,319.18 181.7,319.18 180.9,319.18 180.1,319.18 179.3,319.18 178.5,319.19 177.7,319.19 176.9,319.2 176.1,319.21 175.3,319.22 174.5,319.23 173.7,319.24 172.9,319.25 172.1,319.26 171.3,319.28 170.5,319.29 169.7,319.31 168.9,319.33 168.1,319.34 167.3,319.36 166.5,319.38 165.7,319.39 164.9,319.41 164.1,319.43 163.3,319.45 162.5,319.46 161.7,319.48 160.9,319.5 160.1,319.51 159.3,319.53 158.5,319.54 157.7,319.56 156.9,319.57 156.1,319.59 155.3,319.61 154.5,319.64 153.7,319.67 152.9,319.7 152.1,319.73 151.3,319.76 150.5,319.8 149.7,319.84 148.9,319.88 148.1,319.92 147.3,319.97 146.5,320.02 145.7,320.07 144.9,320.12 144.1,320.18 143.3,320.23 142.5,320.3 141.7,320.37 140.9,320.44 140.1,320.53 139.3,320.62 138.5,320.71 137.7,320.82 136.9,320.93 136.1,321.04 135.3,321.16 134.5,321.28 133.7,321.41 132.9,321.54 132.1,321.68 131.3,321.82 130.5,321.96 129.7,322.11 128.9,322.26 128.1,322.43 127.3,322.62 126.5,322.82 125.7,323.03 124.9,323.26 124.1,323.49 123.3,323.73 122.5,323.97 121.7,324.2 120.9,324.44 120.1,324.67 119.3,324.9 118.5,325.13 117.7,325.36 116.9,325.59 116.1,325.83 115.3,326.08 114.5,326.33 113.7,326.59 112.9,326.88 112.1,327.18 111.3,327.49 110.5,327.82 109.7,328.16 108.9,328.51 108.1,328.86 107.3,329.23 106.5,329.61 105.7,330 104.9,330.4 104.1,330.81 103.3,331.22 102.5,331.63 101.7,332.05 100.9,332.46 100.1,332.87 99.3,333.28 98.5,333.69 97.7,334.09 96.9,334.5 96.1,334.9 95.3,335.31 94.5,335.71 93.7,336.12 92.9,336.53 92.1,336.94 91.3,337.35 90.5,337.76 89.7,338.17 88.9,338.57 88.1,338.98 87.3,339.42 86.5,339.89 85.7,340.41 84.9,340.97 84.1,341.59 83.3,342.34 82.5,343.22 81.7,344.19 80.9,345.17 80.1,346.12 79.3,347 78.5,347.87 77.7,348.75 76.9,349.6 76.1,350.38 75.3,351.08 74.5,351.68 73.7,352.13 72.9,352.18 72.1,352.21 71.3,352.51 70.5,352.94 69.7,353.39 68.9,353.85 68.1,354.32 67.3,354.83 66.5,355.37 65.7,355.95 64.9,356.57 64.1,357.24 63.3,357.96 62.5,358.76 61.7,359.65 60.9,360.68 60.1,361.88 59.3,363.23 58.5,364.68 57.7,366.23 56.9,367.89 56.1,369.69 55.3,371.66 55.3,371.66 55.02,372.39 54.75,373.2 54.5,373.97 54.47,374.06 54.2,374.99 53.92,375.97 53.7,376.81 53.64,377.02 53.37,378.15 53.09,379.34 52.9,380.21 52.82,380.6 52.54,381.91 52.27,383.27 52.1,384.11 51.99,384.68 51.71,386.12 51.44,387.56 51.3,388.28 51.16,389.01 50.89,390.46 50.61,391.91 50.5,392.49 50.33,393.37 50.06,394.89 49.78,396.53 49.7,397.05 49.51,398.34 49.23,400.27 48.96,402.35 48.9,402.73 48.68,405.95 48.4,412.36 48.13,412.83 48.1,412.38 47.85,405.74 47.58,407.24 47.3,410" fill="#efe1ff" stroke="none"/>
<polyline points="47.85,405.3 48.1,382.28 48.13,379.88 48.4,361.46 48.68,355.73 48.9,352.65 48.96,351.96 49.23,348.89 49.51,346.43 49.7,345.03 49.78,344.5 50.06,343.01 50.33,341.85 50.5,341.29 50.61,340.95 50.89,340.55 51.16,340.32 51.3,339.1 51.44,338.75 51.71,338.71 51.99,338.41 52.1,337.65 52.27,336.95 52.54,336.46 52.82,336.45 52.9,336.41 53.09,335.71 53.37,335.64 53.64,335.92 53.7,335.47 53.92,335 54.2,335.42 54.47,335.4 54.5,335.33 54.75,334.89 55.02,334.1 55.3,334.02 55.3,334.17 56.1,333 56.9,331.55 57.7,331.8 58.5,331.95 59.3,331.5 60.1,330.65 60.9,329.83 61.7,328.29 62.5,327.23 63.3,326.36 64.1,327.57 64.9,328.73 65.7,327.97 66.5,325.94 67.3,325.96 68.1,325.77 68.9,323.96 69.7,322.69 70.5,323.52 71.3,322.53 72.1,321.96 72.9,322.39 73.7,321.5 74.5,321.04 75.3,320.67 76.1,319.07 76.9,318.15 77.7,318.64 78.5,318.43 79.3,318.45 80.1,317.94 80.9,317.12 81.7,317.13 82.5,316.93 83.3,316.81 84.1,316.9 84.9,317.03 85.7,316.59 86.5,315.91 87.3,316.25 88.1,316.01 88.9,317.14 89.7,316.06 90.5,316.07 91.3,316.67 92.1,315.67 92.9,314.54 93.7,314.48 94.5,315.46 95.3,315.9 96.1,316 96.9,315.5 97.7,315.04 98.5,315.63 99.3,315.92 100.1,315.58 100.9,316.99 101.7,315.7 102.5,316 103.3,316.51 104.1,315.86 104.9,315.32 105.7,315.55 106.5,315.16 107.3,313.4 108.1,314.31 108.9,314.32 109.7,314.11 110.5,314.55 111.3,314.81 112.1,314.78 112.9,314.51 113.7,314.68 114.5,313.25 115.3,313.23 116.1,313.59 116.9,314.26 117.7,314.38 118.5,314.64 119.3,314.48 120.1,315.42 120.9,315.27 121.7,314.14 122.5,313.26 123.3,313.27 124.1,313.76 124.9,315.36 125.7,315.23 126.5,314.53 127.3,315.65 128.1,314.53 128.9,313.54 129.7,315.29 130.5,315.85 131.3,314.88 132.1,314.48 132.9,315.27 133.7,314.71 134.5,314.74 135.3,315.11 136.1,314.94 136.9,314.28 137.7,314.12 138.5,314.49 139.3,313.52 140.1,314.47 140.9,315.01 141.7,314.95 142.5,314.55 143.3,314.83 144.1,314.92 144.9,314.09 145.7,314.45 146.5,314.53 147.3,313.61 148.1,313.98 148.9,315.51 149.7,315.31 150.5,314.37 151.3,314.84 152.1,315.15 152.9,315.65 153.7,314.93 154.5,313.07 155.3,314 156.1,315.56 156.9,315.6 157.7,314.1 158.5,313.55 159.3,314.17 160.1,314.05 160.9,314.01 161.7,313.82 162.5,314.76 163.3,315.02 164.1,314.58 164.9,313.45 165.7,312.84 166.5,313.35 167.3,314.07 168.1,313.51 168.9,314.81 169.7,315.53 170.5,314.34 171.3,314.36 172.1,315.18 172.9,315.06 173.7,314.17 174.5,314.19 175.3,314.39 176.1,314.39 176.9,314.79 177.7,315.01 178.5,314.94 179.3,313.86 180.1,314.97 180.9,315.15 181.7,314.58 182.5,314.85 183.3,315.18 184.1,314.75 184.9,314.38 185.7,314.39 186.5,313.76 187.3,313.25 188.1,313.42 188.9,313.78 189.7,314.54 190.5,315 191.3,315.04 192.1,315.36 192.9,314.53 193.7,313.84 194.5,313.63 195.3,313.63 196.1,314.32 196.9,314.91 197.7,313.89 198.5,314.45 199.3,314.7 200.1,314.85 200.9,314.46 201.7,314.68 202.5,314.4 203.3,314.32 204.1,313.44 204.9,314.5 205.7,314.68 206.5,313.78 207.3,314.41 208.1,314.12 208.9,314.84 209.7,314.81 210.5,314.97 211.3,314.59 212.1,314.12 212.9,315.45 213.7,315.36 214.5,314.21 215.3,314.73 216.1,314.76 216.9,313.95 217.7,313.97 218.5,315.01 219.3,314.72 220.1,315.4 220.9,316.01 221.7,315.04 222.5,314.27 223.3,314.67 224.1,313.68 224.9,314.29 225.7,316.02 226.5,314.73 227.3,314.38 228.1,313.93 228.9,314.29 229.7,314.1 230.5,312.79 231.3,313.73 232.1,315.03 232.9,315.32 233.7,314.77 234.5,314.13 235.3,314.52 236.1,314.19 236.9,313.99 237.7,314.9 238.5,315.83 239.3,314.72 240.1,315.11 240.9,314.67 241.7,313.53 242.5,313.68 243.3,314.21 244.1,314.34 244.9,314.47 245.7,313.84 246.5,313.99 247.3,315.04 248.1,314.65 248.9,314.09 249.7,314.85 250.5,315.68 251.3,314.36 252.1,313.79 252.9,315.35 253.7,316.08" fill="none" stroke="#ad78f6" stroke-width="1.05" stroke-linejoin="round"/>
<polyline points="48.1,406.16 48.13,405.1 48.4,394.72 48.68,385.01 48.9,378.07 48.96,376.48 49.23,369.61 49.51,364.91 49.7,362.54 49.78,361.58 50.06,358.6 50.33,355.95 50.5,354.51 50.61,353.61 50.89,351.57 51.16,348.41 51.3,347.69 51.44,347.15 51.71,347.21 51.99,346.91 52.1,345.82 52.27,343.94 52.54,343.12 52.82,343.72 52.9,343.41 53.09,342.6 53.37,341.14 53.64,340.77 53.7,342.6 53.92,341.4 54.2,340.41 54.47,340.04 54.5,341.09 54.75,340.15 55.02,339.55 55.3,339.35 55.3,339.66 56.1,338.9 56.9,336.82 57.7,336.73 58.5,336.02 59.3,335.55 60.1,335.46 60.9,335.53 61.7,334.68 62.5,334.87 63.3,335.31 64.1,334.67 64.9,334.51 65.7,334.84 66.5,334.58 67.3,334.15 68.1,333.89 68.9,333.5 69.7,333.72 70.5,332.39 71.3,331.57 72.1,330.92 72.9,327.2 73.7,324.4 74.5,324.01 75.3,323.77 76.1,322.7 76.9,322.11 77.7,322.06 78.5,322.21 79.3,321.82 80.1,322.2 80.9,322.58 81.7,321.66 82.5,320.99 83.3,320.52 84.1,320.29 84.9,319.93 85.7,319.91 86.5,320.34 87.3,320.94 88.1,320.9 88.9,320.37 89.7,320.17 90.5,319.86 91.3,321.57 92.1,321.82 92.9,320.24 93.7,319.84 94.5,319.69 95.3,319.58 96.1,318.48 96.9,317.95 97.7,318.68 98.5,318.12 99.3,318.21 100.1,317.61 100.9,317.66 101.7,318.78 102.5,319.03 103.3,317.85 104.1,317.31 104.9,317.38 105.7,316.61 106.5,315.91 107.3,316.13 108.1,315.52 108.9,316.42 109.7,316.42 110.5,316.2 111.3,315.35 112.1,315.64 112.9,316.7 113.7,317.3 114.5,316.98 115.3,316.22 116.1,315.48 116.9,316.07 117.7,316 118.5,315.92 119.3,316.36 120.1,315.87 120.9,316.48 121.7,315.45 122.5,315.01 123.3,315.07 124.1,314.57 124.9,314.94 125.7,315.07 126.5,314.23 127.3,314.27 128.1,314.29 128.9,315.09 129.7,315.96 130.5,315.35 131.3,315.26 132.1,315.29 132.9,314.82 133.7,315.22 134.5,315.01 135.3,314.55 136.1,314.08 136.9,314.88 137.7,316.19 138.5,316.34 139.3,315.5 140.1,315.31 140.9,314.94 141.7,314.26 142.5,314.42 143.3,315.91 144.1,315.21 144.9,315.68 145.7,316.37 146.5,315.48 147.3,315.31 148.1,315.5 148.9,315.32 149.7,315.46 150.5,315.52 151.3,316.19 152.1,315.75 152.9,314.53 153.7,314.24 154.5,314.65 155.3,314.79 156.1,315.07 156.9,315.75 157.7,315.12 158.5,315.06 159.3,315.05 160.1,314.35 160.9,315.46 161.7,316.23 162.5,316.29 163.3,315.07 164.1,315.05 164.9,315.46 165.7,315.02 166.5,314.72 167.3,315.73 168.1,315.62 168.9,315.48 169.7,315.15 170.5,315.86 171.3,315.4 172.1,315.21 172.9,316.16 173.7,316.26 174.5,315.45 175.3,316.38 176.1,316.9 176.9,315.84 177.7,314.92 178.5,315.93 179.3,316.23 180.1,315.6 180.9,316.47 181.7,315.88 182.5,315.8 183.3,316.41 184.1,316.33 184.9,316.54 185.7,316.06 186.5,315.98 187.3,315.89 188.1,316.03 188.9,316.27 189.7,316.13 190.5,315.88 191.3,316.28 192.1,316.17 192.9,316.65 193.7,316.41 194.5,315.71 195.3,315.33 196.1,315.96 196.9,316.73 197.7,316.42 198.5,316.44 199.3,315.89 200.1,315.45 200.9,314.9 201.7,314.51 202.5,315.6 203.3,315.88 204.1,315.95 204.9,316.08 205.7,315.7 206.5,316.36 207.3,315.29 208.1,315.4 208.9,315.05 209.7,315.62 210.5,316.16 211.3,315.14 212.1,315.62 212.9,315.94 213.7,315.99 214.5,316.16 215.3,316.46 216.1,316.35 216.9,316.32 217.7,316.58 218.5,316.37 219.3,315.6 220.1,315.16 220.9,315.96 221.7,316.09 222.5,316.64 223.3,315.53 224.1,315.15 224.9,316.1 225.7,315.25 226.5,314.94 227.3,315.91 228.1,315.4 228.9,316.11 229.7,315.55 230.5,315.89 231.3,315.63 232.1,314.69 232.9,315.31 233.7,315.55 234.5,315.89 235.3,316.48 236.1,316.84 236.9,315.95 237.7,316.13 238.5,317.27 239.3,316.85 240.1,316.1 240.9,314.69 241.7,314.47 242.5,315.1 243.3,315.65 244.1,316.63 244.9,317.35 245.7,315.48 246.5,315.4 247.3,316.15 248.1,316.32 248.9,316.49 249.7,315.65 250.5,315.6 251.3,317 252.1,316.25 252.9,315.05 253.7,315.32" fill="none" stroke="#ad78f6" stroke-width="1.05" stroke-linejoin="round"/>
<polyline points="48.4,403.83 48.68,396.04 48.9,390.63 48.96,389.43 49.23,384.54 49.51,380.77 49.7,378.4 49.78,377.46 50.06,374.6 50.33,372.17 50.5,370.92 50.61,370.16 50.89,368.52 51.16,367.08 51.3,364.84 51.44,365.31 51.71,364.69 51.99,363.83 52.1,362.79 52.27,361.98 52.54,360.14 52.82,359.44 52.9,359.8 53.09,359.69 53.37,359.77 53.64,359.2 53.7,358.2 53.92,358.6 54.2,357.19 54.47,356.65 54.5,356.9 54.75,354.72 55.02,354.19 55.3,354.49 55.3,355.4 56.1,354.93 56.9,353.58 57.7,351.64 58.5,351.07 59.3,350.24 60.1,350.05 60.9,348.9 61.7,348.26 62.5,346.95 63.3,346.54 64.1,345.21 64.9,344.68 65.7,343.58 66.5,343.39 67.3,342.65 68.1,342.07 68.9,342.34 69.7,342.25 70.5,341.45 71.3,341 72.1,340.9 72.9,340.77 73.7,340.15 74.5,339.59 75.3,339.47 76.1,338.05 76.9,337.48 77.7,336.82 78.5,337.62 79.3,336.32 80.1,335.81 80.9,335.88 81.7,334.54 82.5,333.13 83.3,332.24 84.1,333.07 84.9,334.04 85.7,333.25 86.5,333.25 87.3,332.35 88.1,330.79 88.9,329.82 89.7,330.22 90.5,330.49 91.3,329.89 92.1,329.74 92.9,329.58 93.7,328.56 94.5,327.62 95.3,328.01 96.1,328.25 96.9,327.25 97.7,326.56 98.5,326.45 99.3,326.72 100.1,326.71 100.9,326.28 101.7,325.56 102.5,325.75 103.3,325.31 104.1,324.55 104.9,323.84 105.7,324 106.5,324.41 107.3,324.83 108.1,324.87 108.9,324.52 109.7,324.08 110.5,323.46 111.3,324.2 112.1,324.4 112.9,323.88 113.7,323.01 114.5,322.76 115.3,322.24 116.1,321.64 116.9,321.64 117.7,320.85 118.5,320.77 119.3,322 120.1,322.37 120.9,322.1 121.7,321.29 122.5,321.25 123.3,321.32 124.1,320.35 124.9,319.86 125.7,321.86 126.5,322.01 127.3,321.44 128.1,320.42 128.9,319.7 129.7,320.02 130.5,319.9 131.3,319 132.1,319.34 132.9,320.29 133.7,320.83 134.5,320.17 135.3,319.07 136.1,318.92 136.9,320.34 137.7,319.88 138.5,319.66 139.3,318.96 140.1,318.6 140.9,320.13 141.7,319.97 142.5,319.51 143.3,318.45 144.1,318.73 144.9,319.34 145.7,318.41 146.5,317.68 147.3,317.24 148.1,317.41 148.9,318.51 149.7,317.99 150.5,317.36 151.3,319 152.1,319.49 152.9,318.7 153.7,317.16 154.5,317.99 155.3,318.64 156.1,317.46 156.9,317.23 157.7,317.25 158.5,316.72 159.3,317.91 160.1,318.8 160.9,318.94 161.7,319.1 162.5,318.36 163.3,317.96 164.1,317.72 164.9,317.29 165.7,317.01 166.5,317.28 167.3,317.67 168.1,317.66 168.9,317.96 169.7,318.2 170.5,318.31 171.3,317.37 172.1,316.38 172.9,317.35 173.7,319.16 174.5,318.79 175.3,317.85 176.1,317.76 176.9,317.8 177.7,317.72 178.5,318.17 179.3,318.73 180.1,318.83 180.9,317.96 181.7,317.67 182.5,317.73 183.3,318.17 184.1,318.52 184.9,318.21 185.7,319.35 186.5,319.05 187.3,318.63 188.1,317.59 188.9,317.46 189.7,317.6 190.5,317.49 191.3,316.83 192.1,317.53 192.9,317.13 193.7,318.1 194.5,318.72 195.3,318.15 196.1,317.86 196.9,317.83 197.7,317.9 198.5,318.33 199.3,318.79 200.1,318.94 200.9,319.14 201.7,318.31 202.5,317.64 203.3,317.39 204.1,317.09 204.9,317.43 205.7,317.98 206.5,319.18 207.3,319.15 208.1,318.91 208.9,317.32 209.7,318.08 210.5,318.86 211.3,318.41 212.1,317.9 212.9,318.12 213.7,318.22 214.5,318.25 215.3,318.49 216.1,318.79 216.9,318.5 217.7,318.33 218.5,318.27 219.3,318.25 220.1,317.88 220.9,318.26 221.7,318.21 222.5,318.46 223.3,317.92 224.1,317.93 224.9,317.79 225.7,317.67 226.5,318.65 227.3,318.59 228.1,318.49 228.9,318.84 229.7,318.18 230.5,318.28 231.3,319.33 232.1,319.91 232.9,319.03 233.7,319.2 234.5,318.41 235.3,317.77 236.1,318.54 236.9,319.05 237.7,318.61 238.5,318.24 239.3,317.07 240.1,316.52 240.9,317.49 241.7,317.24 242.5,317.61 243.3,317.68 244.1,318.19 244.9,318.26 245.7,317.13 246.5,317.54 247.3,318.16 248.1,318.83 248.9,318.15 249.7,317.38 250.5,317.84 251.3,318.82 252.1,317.82 252.9,317.89 253.7,318.17" fill="none" stroke="#ad78f6" stroke-width="1.05" stroke-linejoin="round"/>
<polyline points="49.23,408.76 49.51,407.28 49.7,406.25 49.78,405.81 50.06,404.34 50.33,402.9 50.5,402.03 50.61,401.46 50.89,400.03 51.16,398.56 51.3,397.81 51.44,397.06 51.71,395.53 51.99,393.99 52.1,393.72 52.27,392.54 52.54,390.62 52.82,389.2 52.9,389.13 53.09,388.48 53.37,386.28 53.64,384.39 53.7,383.06 53.92,382.38 54.2,382.5 54.47,381.16 54.5,381.04 54.75,380.48 55.02,379.2 55.3,378.31 55.3,377.8 56.1,374.81 56.9,374.06 57.7,373.04 58.5,370.94 59.3,368.54 60.1,366.98 60.9,366.06 61.7,365.67 62.5,364.53 63.3,362.79 64.1,361.92 64.9,361.27 65.7,360.53 66.5,360.13 67.3,359.62 68.1,358.62 68.9,359.49 69.7,359.19 70.5,358.55 71.3,358.68 72.1,358.67 72.9,358.94 73.7,357.65 74.5,357.28 75.3,356.62 76.1,354.9 76.9,353.7 77.7,353.36 78.5,351.98 79.3,350.28 80.1,349.18 80.9,349.27 81.7,348.45 82.5,346.25 83.3,345.42 84.1,345.1 84.9,344.25 85.7,342.99 86.5,342.97 87.3,343.32 88.1,343.69 88.9,342.47 89.7,342.12 90.5,341.74 91.3,340.81 92.1,339.56 92.9,339.79 93.7,339.93 94.5,338.64 95.3,337.91 96.1,337.11 96.9,337.04 97.7,336.86 98.5,336.35 99.3,335.24 100.1,334.46 100.9,334.03 101.7,333.98 102.5,334 103.3,334.13 104.1,332.54 104.9,331.99 105.7,331.02 106.5,330.65 107.3,331.01 108.1,330.51 108.9,329.65 109.7,328.93 110.5,330.46 111.3,330.01 112.1,327.73 112.9,326.58 113.7,326.75 114.5,326.98 115.3,326.49 116.1,326.6 116.9,326.8 117.7,327.92 118.5,326.58 119.3,326.17 120.1,327.12 120.9,326.35 121.7,325.6 122.5,325.41 123.3,325.33 124.1,324.71 124.9,324.45 125.7,323.73 126.5,323.06 127.3,323.38 128.1,323.94 128.9,324.41 129.7,323.56 130.5,322.83 131.3,322.9 132.1,322.51 132.9,321.05 133.7,321.05 134.5,320.26 135.3,320.19 136.1,320.83 136.9,321.28 137.7,321.36 138.5,321.54 139.3,321.96 140.1,321.52 140.9,321.04 141.7,320.94 142.5,321.93 143.3,321.52 144.1,320.16 144.9,319.97 145.7,320.75 146.5,320.81 147.3,320.27 148.1,320.33 148.9,319.35 149.7,319.67 150.5,320.2 151.3,319.55 152.1,319.58 152.9,319.52 153.7,318.96 154.5,318.19 155.3,318.87 156.1,319.47 156.9,319.68 157.7,320.04 158.5,320 159.3,319.27 160.1,319.47 160.9,320.49 161.7,320.21 162.5,319.47 163.3,319.41 164.1,320.13 164.9,320.16 165.7,319.56 166.5,319.57 167.3,319.41 168.1,319.66 168.9,320.17 169.7,319.04 170.5,319.27 171.3,318.65 172.1,318.81 172.9,319.38 173.7,318.45 174.5,318.19 175.3,318.25 176.1,318.73 176.9,319.56 177.7,319.9 178.5,319.28 179.3,319.43 180.1,319.13 180.9,320.21 181.7,319.3 182.5,318.9 183.3,319.31 184.1,319.3 184.9,318.79 185.7,318.31 186.5,319.53 187.3,319.73 188.1,318.86 188.9,318.45 189.7,319.34 190.5,319.57 191.3,318.12 192.1,318.16 192.9,318.84 193.7,318.63 194.5,318.78 195.3,319.21 196.1,319.8 196.9,320.02 197.7,320.13 198.5,319.81 199.3,318.49 200.1,317.64 200.9,318.98 201.7,319.61 202.5,319.41 203.3,319.25 204.1,319.88 204.9,318.71 205.7,319.47 206.5,319.93 207.3,320.17 208.1,320.34 208.9,319.85 209.7,319.44 210.5,319.24 211.3,319.69 212.1,319.76 212.9,319.53 213.7,318.34 214.5,318.04 215.3,319.03 216.1,319.22 216.9,318.16 217.7,318.19 218.5,318.84 219.3,319.38 220.1,319.67 220.9,319.85 221.7,319.4 222.5,319.7 223.3,320.03 224.1,319.78 224.9,320.48 225.7,319.49 226.5,318.84 227.3,318.08 228.1,318.68 228.9,318.76 229.7,318.79 230.5,319.06 231.3,318.67 232.1,318.74 232.9,317.96 233.7,318.81 234.5,320 235.3,319.73 236.1,319.46 236.9,318.55 237.7,318.55 238.5,320.05 239.3,320.34 240.1,319.99 240.9,319.67 241.7,319.89 242.5,319.39 243.3,319.74 244.1,319.63 244.9,319.15 245.7,319.99 246.5,319.81 247.3,319.5 248.1,318.29 248.9,318.16 249.7,318.89 250.5,319.76 251.3,320.19 252.1,319.74 252.9,319.42 253.7,319.63" fill="none" stroke="#ad78f6" stroke-width="1.05" stroke-linejoin="round"/>
<polyline points="47.3,410 47.58,407.24 47.85,403.39 48.1,399.04 48.13,398.4 48.4,390.74 48.68,382.91 48.9,378.7 48.96,378.04 49.23,375.06 49.51,372.57 49.7,371.06 49.78,370.47 50.06,368.69 50.33,367.14 50.5,366.28 50.61,365.74 50.89,364.42 51.16,363.16 51.3,362.56 51.44,361.98 51.71,360.87 51.99,359.82 52.1,359.42 52.27,358.84 52.54,357.92 52.82,357.07 52.9,356.82 53.09,356.28 53.37,355.55 53.64,354.88 53.7,354.75 53.92,354.26 54.2,353.7 54.47,353.17 54.5,353.12 54.75,352.66 55.02,352.17 55.3,351.71 55.3,351.71 56.1,350.47 56.9,349.37 57.7,348.38 58.5,347.48 59.3,346.62 60.1,345.99 60.9,345.18 61.7,344.46 62.5,343.66 63.3,342.87 64.1,342.45 64.9,342.05 65.7,341.32 66.5,340.64 67.3,339.94 68.1,339.05 68.9,338.3 69.7,337.81 70.5,337.45 71.3,336.83 72.1,336.05 72.9,335.59 73.7,335.39 74.5,335.01 75.3,334.39 76.1,333.82 76.9,333.34 77.7,332.85 78.5,332.34 79.3,331.73 80.1,331.12 80.9,330.76 81.7,330.64 82.5,330.32 83.3,329.57 84.1,329.06 84.9,328.96 85.7,328.62 86.5,328.03 87.3,327.59 88.1,327.35 88.9,327.44 89.7,327.38 90.5,326.78 91.3,326.3 92.1,326.06 92.9,325.88 93.7,325.74 94.5,325.4 95.3,324.95 96.1,324.79 96.9,324.85 97.7,324.68 98.5,324.43 99.3,324.16 100.1,323.92 100.9,323.75 101.7,323.33 102.5,322.91 103.3,322.76 104.1,322.93 104.9,323.05 105.7,322.65 106.5,322.37 107.3,322.23 108.1,321.72 108.9,321.25 109.7,321.12 110.5,320.94 111.3,320.68 112.1,320.66 112.9,320.84 113.7,320.94 114.5,320.68 115.3,320.25 116.1,319.92 116.9,319.58 117.7,319.37 118.5,319.24 119.3,319.06 120.1,319.25 120.9,319.43 121.7,319.17 122.5,318.9 123.3,318.54 124.1,318.32 124.9,318.45 125.7,318.5 126.5,318.46 127.3,318.42 128.1,318.3 128.9,318.18 129.7,318.24 130.5,318.22 131.3,317.97 132.1,317.94 132.9,318.09 133.7,318.01 134.5,317.68 135.3,317.46 136.1,317.67 136.9,317.88 137.7,317.69 138.5,317.47 139.3,317.41 140.1,317.46 140.9,317.54 141.7,317.5 142.5,317.3 143.3,317.4 144.1,317.72 144.9,317.56 145.7,317.27 146.5,317.34 147.3,317.55 148.1,317.63 148.9,317.49 149.7,317.37 150.5,317.29 151.3,317.07 152.1,317.16 152.9,317.47 153.7,317.45 154.5,317.26 155.3,317.09 156.1,317.06 156.9,317.23 157.7,317.45 158.5,317.49 159.3,317.25 160.1,317.13 160.9,317.09 161.7,317.18 162.5,317.55 163.3,317.58 164.1,317.19 164.9,316.95 165.7,317.11 166.5,317.18 167.3,316.91 168.1,316.92 168.9,317.13 169.7,317.07 170.5,317.06 171.3,316.98 172.1,316.99 172.9,317.05 173.7,316.86 174.5,316.83 175.3,317.05 176.1,317.26 176.9,317.25 177.7,316.97 178.5,316.86 179.3,317.02 180.1,317.02 180.9,316.82 181.7,316.65 182.5,316.82 183.3,317 184.1,317 184.9,317.15 185.7,317.37 186.5,317.3 187.3,316.87 188.1,316.44 188.9,316.38 189.7,316.56 190.5,316.7 191.3,316.72 192.1,316.73 192.9,316.97 193.7,316.92 194.5,316.71 195.3,316.92 196.1,317.13 196.9,317.1 197.7,317.06 198.5,317.11 199.3,317.07 200.1,316.95 200.9,316.83 201.7,316.8 202.5,316.86 203.3,316.78 204.1,316.71 204.9,316.81 205.7,317.03 206.5,316.97 207.3,316.81 208.1,316.89 208.9,316.99 209.7,317.04 210.5,317 211.3,316.92 212.1,316.76 212.9,316.68 213.7,316.95 214.5,317.03 215.3,316.88 216.1,317.05 216.9,317.26 217.7,317.31 218.5,317.32 219.3,317.18 220.1,317.15 220.9,317.3 221.7,317.11 222.5,317 223.3,317.11 224.1,317.05 224.9,317 225.7,317.02 226.5,317.22 227.3,317.27 228.1,317.07 228.9,317.11 229.7,317.15 230.5,317.08 231.3,317.06 232.1,316.96 232.9,316.79 233.7,316.79 234.5,317 235.3,317.18 236.1,317.23 236.9,317.21 237.7,317.13 238.5,317.15 239.3,317.2 240.1,317.08 240.9,317.06 241.7,317.03 242.5,317.13 243.3,317.39 244.1,317.19 244.9,316.9 245.7,316.95 246.5,317.14 247.3,317.24 248.1,317.05 248.9,316.92 249.7,316.89 250.5,316.94 251.3,317.19 252.1,317.38 252.9,317.32 253.7,317.1" fill="none" stroke="#6e0cdc" stroke-width="1.4" stroke-linejoin="round"/>
</g>
<rect x="33.6" y="230" width="230.8" height="172" fill="none" stroke="#484848" stroke-width="1"/>
<line x1="30.6" y1="402" x2="33.6" y2="402" stroke="#484848" stroke-width="0.9"/>
<text x="29.3" y="405.4" text-anchor="end" font-size="7.3" fill="#000">0</text>
<line x1="30.6" y1="367.6" x2="33.6" y2="367.6" stroke="#484848" stroke-width="0.9"/>
<text x="29.3" y="371" text-anchor="end" font-size="7.3" fill="#000">200</text>
<line x1="30.6" y1="333.2" x2="33.6" y2="333.2" stroke="#484848" stroke-width="0.9"/>
<text x="29.3" y="336.6" text-anchor="end" font-size="7.3" fill="#000">400</text>
<line x1="30.6" y1="298.8" x2="33.6" y2="298.8" stroke="#484848" stroke-width="0.9"/>
<text x="29.3" y="302.2" text-anchor="end" font-size="7.3" fill="#000">600</text>
<line x1="30.6" y1="264.4" x2="33.6" y2="264.4" stroke="#484848" stroke-width="0.9"/>
<text x="29.3" y="267.8" text-anchor="end" font-size="7.3" fill="#000">800</text>
<line x1="30.6" y1="230" x2="33.6" y2="230" stroke="#484848" stroke-width="0.9"/>
<text x="29.3" y="233.4" text-anchor="end" font-size="7.3" fill="#000">1000</text>
<line x1="43.5" y1="402" x2="43.5" y2="405" stroke="#484848" stroke-width="0.9"/>
<text x="43.5" y="412" text-anchor="middle" font-size="7" fill="#000" textLength="14.6" lengthAdjust="spacingAndGlyphs">0.00</text>
<line x1="78.55" y1="402" x2="78.55" y2="405" stroke="#484848" stroke-width="0.9"/>
<text x="78.55" y="412" text-anchor="middle" font-size="7" fill="#000" textLength="14.6" lengthAdjust="spacingAndGlyphs">0.05</text>
<line x1="113.6" y1="402" x2="113.6" y2="405" stroke="#484848" stroke-width="0.9"/>
<text x="113.6" y="412" text-anchor="middle" font-size="7" fill="#000" textLength="14.6" lengthAdjust="spacingAndGlyphs">0.10</text>
<line x1="148.65" y1="402" x2="148.65" y2="405" stroke="#484848" stroke-width="0.9"/>
<text x="148.65" y="412" text-anchor="middle" font-size="7" fill="#000" textLength="14.6" lengthAdjust="spacingAndGlyphs">0.15</text>
<line x1="183.7" y1="402" x2="183.7" y2="405" stroke="#484848" stroke-width="0.9"/>
<text x="183.7" y="412" text-anchor="middle" font-size="7" fill="#000" textLength="14.6" lengthAdjust="spacingAndGlyphs">0.20</text>
<line x1="218.75" y1="402" x2="218.75" y2="405" stroke="#484848" stroke-width="0.9"/>
<text x="218.75" y="412" text-anchor="middle" font-size="7" fill="#000" textLength="14.6" lengthAdjust="spacingAndGlyphs">0.25</text>
<line x1="253.8" y1="402" x2="253.8" y2="405" stroke="#484848" stroke-width="0.9"/>
<text x="253.8" y="412" text-anchor="middle" font-size="7" fill="#000" textLength="14.6" lengthAdjust="spacingAndGlyphs">0.30</text>
<text x="149" y="420.4" text-anchor="middle" font-size="7.2" fill="#000" textLength="80" lengthAdjust="spacingAndGlyphs">Environment steps (1e8)</text>
<text x="0" y="0" transform="translate(9.2,316) rotate(-90)" text-anchor="middle" font-size="6.9" fill="#000" textLength="23.4" lengthAdjust="spacingAndGlyphs">Reward</text>
<rect x="61" y="233.2" width="200.4" height="20.9" rx="1.2" fill="#ffffff" fill-opacity="0.85" stroke="#d6d6d6" stroke-width="0.8"/>
<line x1="63.1" y1="238.42" x2="77.4" y2="238.42" stroke="#6e0cdc" stroke-width="1.45"/>
<line x1="63.1" y1="247.83" x2="77.4" y2="247.83" stroke="#ad78f6" stroke-width="1.2"/>
<text x="82" y="240.92" font-size="7.3" fill="#000" textLength="102.3" lengthAdjust="spacingAndGlyphs">Mean collective episode reward</text>
<text x="82" y="250.33" font-size="7.3" fill="#000" textLength="176.8" lengthAdjust="spacingAndGlyphs">Mean collective episode reward: Individual experiment</text>
<text x="72.8" y="438.5" font-family='"Liberation Serif", serif' font-size="13.5" fill="#111" style="stroke:none" textLength="124.6" lengthAdjust="spacingAndGlyphs">(<tspan font-weight="bold">c</tspan>) Advantageous IA</text>
<g clip-path="url(#c3)">
<polygon points="324.9,415.05 336.5,325.64 348.2,318.52 359.8,315.51 371.4,305.51 383.1,297.64 394.7,291.86 406.3,288.75 418,284.3 429.6,283.36 441.2,282.72 452.9,282.6 464.5,282.46 476.1,282.17 487.8,281.55 499.4,280.7 511,281.22 522.6,281.48 534.3,281.63 534.3,285.97 522.6,286.92 511,287.78 499.4,287.9 487.8,286.65 476.1,285.43 464.5,284.94 452.9,286 441.2,287.88 429.6,291.24 418,295.1 406.3,300.85 394.7,304.34 383.1,313.76 371.4,325.49 359.8,326.49 348.2,335.28 336.5,344.56 324.9,427.95" fill="#cff9cf" stroke="none"/>
<polyline points="324.9,415 336.5,326.7 348.2,318.9 359.8,313.5 371.4,303.5 383.1,294.3 394.7,292.1 406.3,289.4 418,284.6 429.6,283 441.2,282.7 452.9,282.3 464.5,282.1 476.1,281.8 487.8,281.5 499.4,281.3 511,281 522.6,280.8 534.3,280.6" fill="none" stroke="#3de63d" stroke-width="1.15" stroke-linejoin="round"/>
<polyline points="324.9,425 336.5,329.5 348.2,322.3 359.8,317.7 371.4,311.2 383.1,301.4 394.7,295.9 406.3,292.6 418,288.5 429.6,286.5 441.2,284.5 452.9,283.5 464.5,283.2 476.1,283 487.8,283 499.4,283.2 511,283.2 522.6,283 534.3,283" fill="none" stroke="#3de63d" stroke-width="1.15" stroke-linejoin="round"/>
<polyline points="324.9,430 336.5,336.8 348.2,332.3 359.8,322.6 371.4,327 383.1,312 394.7,299 406.3,296 418,291.5 429.6,289.1 441.2,287 452.9,285.5 464.5,284.5 476.1,285.5 487.8,287.5 499.4,289.7 511,288.8 522.6,287.3 534.3,285.8" fill="none" stroke="#3de63d" stroke-width="1.15" stroke-linejoin="round"/>
<polyline points="324.9,420 336.5,347.9 348.2,336.8 359.8,326 371.4,318 383.1,309.5 394.7,306.8 406.3,303.5 418,297.4 429.6,292.3 441.2,288.5 452.9,285.9 464.5,284.8 476.1,284.5 487.8,284.3 499.4,284.3 511,284.5 522.6,284.3 534.3,284" fill="none" stroke="#3de63d" stroke-width="1.15" stroke-linejoin="round"/>
<polyline points="324.9,421.5 336.5,335.1 348.2,326.9 359.8,321 371.4,315.5 383.1,305.7 394.7,298.1 406.3,294.8 418,289.7 429.6,287.3 441.2,285.3 452.9,284.3 464.5,283.7 476.1,283.8 487.8,284.1 499.4,284.3 511,284.5 522.6,284.2 534.3,283.8" fill="none" stroke="#0a760a" stroke-width="1.55" stroke-linejoin="round"/>
</g>
<rect x="314.5" y="229.4" width="230.2" height="172" fill="none" stroke="#484848" stroke-width="1"/>
<line x1="311.5" y1="401.4" x2="314.5" y2="401.4" stroke="#484848" stroke-width="0.9"/>
<text x="310.2" y="404.8" text-anchor="end" font-size="7.3" fill="#000">0</text>
<line x1="311.5" y1="367" x2="314.5" y2="367" stroke="#484848" stroke-width="0.9"/>
<text x="310.2" y="370.4" text-anchor="end" font-size="7.3" fill="#000">200</text>
<line x1="311.5" y1="332.6" x2="314.5" y2="332.6" stroke="#484848" stroke-width="0.9"/>
<text x="310.2" y="336" text-anchor="end" font-size="7.3" fill="#000">400</text>
<line x1="311.5" y1="298.2" x2="314.5" y2="298.2" stroke="#484848" stroke-width="0.9"/>
<text x="310.2" y="301.6" text-anchor="end" font-size="7.3" fill="#000">600</text>
<line x1="311.5" y1="263.8" x2="314.5" y2="263.8" stroke="#484848" stroke-width="0.9"/>
<text x="310.2" y="267.2" text-anchor="end" font-size="7.3" fill="#000">800</text>
<line x1="311.5" y1="229.4" x2="314.5" y2="229.4" stroke="#484848" stroke-width="0.9"/>
<text x="310.2" y="232.8" text-anchor="end" font-size="7.3" fill="#000">1000</text>
<line x1="350.1" y1="401.4" x2="350.1" y2="404.4" stroke="#484848" stroke-width="0.9"/>
<text x="350.1" y="411.4" text-anchor="middle" font-size="7" fill="#000" textLength="14.6" lengthAdjust="spacingAndGlyphs">0.05</text>
<line x1="386.95" y1="401.4" x2="386.95" y2="404.4" stroke="#484848" stroke-width="0.9"/>
<text x="386.95" y="411.4" text-anchor="middle" font-size="7" fill="#000" textLength="14.6" lengthAdjust="spacingAndGlyphs">0.10</text>
<line x1="423.8" y1="401.4" x2="423.8" y2="404.4" stroke="#484848" stroke-width="0.9"/>
<text x="423.8" y="411.4" text-anchor="middle" font-size="7" fill="#000" textLength="14.6" lengthAdjust="spacingAndGlyphs">0.15</text>
<line x1="460.65" y1="401.4" x2="460.65" y2="404.4" stroke="#484848" stroke-width="0.9"/>
<text x="460.65" y="411.4" text-anchor="middle" font-size="7" fill="#000" textLength="14.6" lengthAdjust="spacingAndGlyphs">0.20</text>
<line x1="497.5" y1="401.4" x2="497.5" y2="404.4" stroke="#484848" stroke-width="0.9"/>
<text x="497.5" y="411.4" text-anchor="middle" font-size="7" fill="#000" textLength="14.6" lengthAdjust="spacingAndGlyphs">0.25</text>
<line x1="534.35" y1="401.4" x2="534.35" y2="404.4" stroke="#484848" stroke-width="0.9"/>
<text x="534.35" y="411.4" text-anchor="middle" font-size="7" fill="#000" textLength="14.6" lengthAdjust="spacingAndGlyphs">0.30</text>
<text x="429.6" y="420.4" text-anchor="middle" font-size="7.2" fill="#000" textLength="80" lengthAdjust="spacingAndGlyphs">Environment steps (1e8)</text>
<text x="0" y="0" transform="translate(290,315.4) rotate(-90)" text-anchor="middle" font-size="6.9" fill="#000" textLength="23.4" lengthAdjust="spacingAndGlyphs">Reward</text>
<rect x="341.6" y="232.4" width="200.2" height="21.1" rx="1.2" fill="#ffffff" fill-opacity="0.85" stroke="#d6d6d6" stroke-width="0.8"/>
<line x1="343.7" y1="237.68" x2="358" y2="237.68" stroke="#0a760a" stroke-width="1.45"/>
<line x1="343.7" y1="247.17" x2="358" y2="247.17" stroke="#3de63d" stroke-width="1.2"/>
<text x="362.6" y="240.18" font-size="7.3" fill="#000" textLength="102.3" lengthAdjust="spacingAndGlyphs">Mean collective episode reward</text>
<text x="362.6" y="249.67" font-size="7.3" fill="#000" textLength="176.8" lengthAdjust="spacingAndGlyphs">Mean collective episode reward: Individual experiment</text>
<text x="334.4" y="438.5" font-family='"Liberation Serif", serif' font-size="13.5" fill="#111" style="stroke:none" textLength="164.5" lengthAdjust="spacingAndGlyphs">(<tspan font-weight="bold">d</tspan>) Advantageous EMuReL</text>
</svg></body></html>
